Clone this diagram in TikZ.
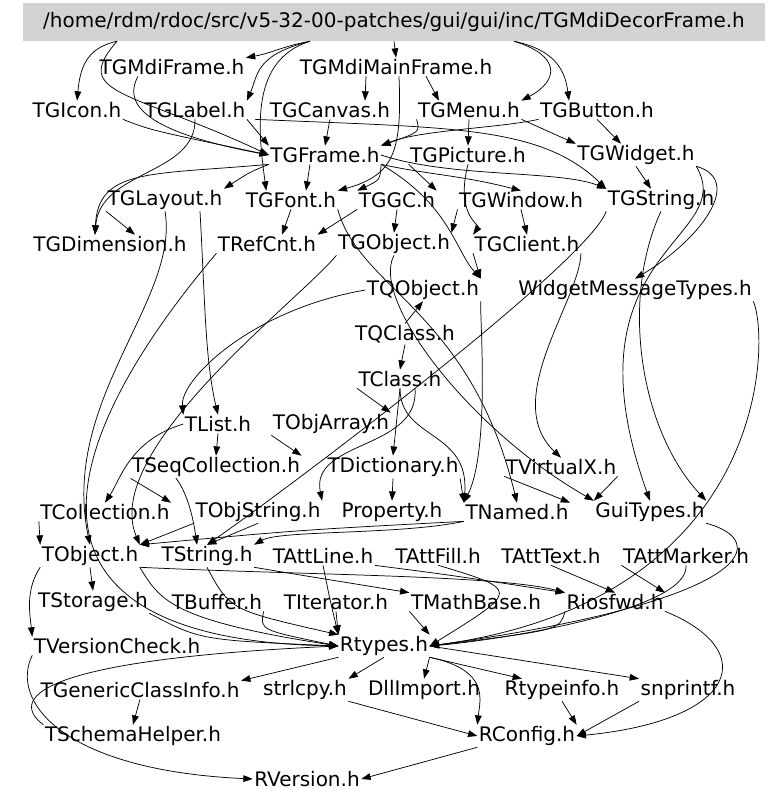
\documentclass[tikz,border=0pt]{standalone}
\usepackage{fontspec}
\setmainfont{DejaVu Sans}
\usetikzlibrary{arrows.meta}
\definecolor{hdrgray}{RGB}{211,211,211}

\begin{document}
\begin{tikzpicture}[x=0.75pt,y=-0.75pt,
  every node/.style={font=\fontsize{15}{18}\selectfont,inner sep=1pt},
  hdr/.style={fill=hdrgray,minimum width=556pt,minimum height=28.5pt,inner sep=0pt},
  dep/.style={line width=0.55pt,-{Triangle[length=7pt,width=5pt]}}]
  \useasboundingbox (0,0) rectangle (768,804);
  % header file
  \node[hdr] (DF) at (394,22) {/home/rdm/rdoc/src/v5-32-00-patches/gui/gui/inc/TGMdiDecorFrame.h};
  % included files, row by row
  \node (MF) at (172,67) {TGMdiFrame.h};
  \node (MMF) at (396,67) {TGMdiMainFrame.h};
  \node (IC) at (77,110) {TGIcon.h};
  \node (LB) at (195,110) {TGLabel.h};
  \node (CV) at (330,110) {TGCanvas.h};
  \node (MN) at (469,110) {TGMenu.h};
  \node (BT) at (597,110) {TGButton.h};
  \node (FR) at (325,155) {TGFrame.h};
  \node (PI) at (468,155) {TGPicture.h};
  \node (WI) at (636,155) {TGWidget.h};
  \node (LY) at (165,200) {TGLayout.h};
  \node (FO) at (291,200) {TGFont.h};
  \node (GC) at (397,200) {TGGC.h};
  \node (WN) at (521,200) {TGWindow.h};
  \node (GS) at (661,200) {TGString.h};
  \node (DM) at (110,244) {TGDimension.h};
  \node (RC) at (267,244) {TRefCnt.h};
  \node (GO) at (394,244) {TGObject.h};
  \node (CL) at (527,244) {TGClient.h};
  \node (QO) at (423,290) {TQObject.h};
  \node (WM) at (635,290) {WidgetMessageTypes.h};
  \node (QC) at (405,334) {TQClass.h};
  \node (CS) at (400,379) {TClass.h};
  \node (LI) at (218,424) {TList.h};
  \node (OA) at (331,424) {TObjArray.h};
  \node (SC) at (216,467) {TSeqCollection.h};
  \node (DI) at (393,467) {TDictionary.h};
  \node (VX) at (561,467) {TVirtualX.h};
  \node (CO) at (105,512) {TCollection.h};
  \node (OS) at (258,512) {TObjString.h};
  \node (PR) at (392,512) {Property.h};
  \node (NA) at (517,512) {TNamed.h};
  \node (GT) at (650,512) {GuiTypes.h};
  \node (OB) at (90,556) {TObject.h};
  \node (ST) at (207,556) {TString.h};
  \node (AL) at (323,556) {TAttLine.h};
  \node (AF) at (438,556) {TAttFill.h};
  \node (AT) at (551,556) {TAttText.h};
  \node (AM) at (686,556) {TAttMarker.h};
  \node (SG) at (93,602) {TStorage.h};
  \node (BU) at (217,602) {TBuffer.h};
  \node (IT) at (336,602) {TIterator.h};
  \node (MB) at (476,602) {TMathBase.h};
  \node (IO) at (615,602) {Riosfwd.h};
  \node (VC) at (117,646) {TVersionCheck.h};
  \node (RT) at (384,646) {Rtypes.h};
  \node (GCI) at (140,690) {TGenericClassInfo.h};
  \node (SL) at (305,690) {strlcpy.h};
  \node (DL) at (424,690) {DllImport.h};
  \node (TI) at (562,690) {Rtypeinfo.h};
  \node (SN) at (688,690) {snprintf.h};
  \node (SH) at (133,736) {TSchemaHelper.h};
  \node (CF) at (527,736) {RConfig.h};
  \node (RV) at (307,779) {RVersion.h};
  % from the header
  \draw[dep] ([shift={(-84,0)}]DF.south) to[out=190,in=10] (MF.north east);
  \draw[dep] ([shift={(-84,0)}]DF.south) .. controls (255,55) and (258,75) .. (LB.north east);
  \draw[dep] ([shift={(-84,0)}]DF.south) .. controls (250,60) and (258,130) .. ([shift={(22,0)}]FO.north west);
  \draw[dep] ([shift={(-277,0)}]DF.south) .. controls (85,48) and (80,70) .. (IC.north);
  \draw[dep] ([shift={(-277,0)}]DF.south) .. controls (70,95) and (130,90) .. (FR.west);
  \draw[dep] (DF.south) -- (MMF.north);
  \draw[dep] ([shift={(120,0)}]DF.south) .. controls (560,55) and (560,80) .. (MN.north east);
  \draw[dep] ([shift={(120,0)}]DF.south) .. controls (555,50) and (565,70) .. ([shift={(-28,0)}]BT.north);
  % second rows
  \draw[dep] ([shift={(-34,0)}]MF.south) .. controls (125,100) and (135,130) .. (FR.west);
  \draw[dep] ([shift={(-30,0)}]MMF.south) -- ([shift={(35,0)}]CV.north);
  \draw[dep] ([shift={(30,0)}]MMF.south) -- ([shift={(-30,0)}]MN.north);
  \draw[dep] ([shift={(3,0)}]MMF.south) .. controls (402,150) and (395,175) .. (FO.north east);
  \draw[dep] (IC.south east) .. controls (150,130) .. (FR.west);
  \draw[dep] (LB.south east) -- (FR.north west);
  \draw[dep] (LB.south) .. controls (196,175) and (100,170) .. ([shift={(-15,0)}]DM.north);
  \draw[dep] ([shift={(60,0)}]LB.south) .. controls (450,128) and (540,125) .. (GS.north west);
  \draw[dep] (CV.south) -- (FR.north);
  \draw[dep] (MN.south) -- (PI.north);
  \draw[dep] (MN.south west) .. controls (420,132) .. (FR.north east);
  \draw[dep] (MN.south east) -- (WI.north west);
  \draw[dep] (BT.south) -- ([shift={(-15,0)}]WI.north);
  \draw[dep] (BT.south west) .. controls (500,128) and (420,130) .. (FR.north east);
  % TGFrame.h and its neighbours
  \draw[dep] (FR.south west) .. controls (250,172) .. (LY.north east);
  \draw[dep] ([shift={(-15,0)}]FR.south) -- ([shift={(15,0)}]FO.north);
  \draw[dep] (FR.south east) .. controls (380,180) .. (GC.north west);
  \draw[dep] (FR.south west) .. controls (150,175) and (98,168) .. ([shift={(-15,0)}]DM.north);
  \draw[dep] (FR.east) .. controls (450,178) and (560,170) .. (GS.north west);
  \draw[dep] (FR.south east) .. controls (430,175) and (460,175) .. (WN.north);
  \draw[dep] (FR.south east) .. controls (450,205) and (455,250) .. (QO.north east);
  \draw[dep] (PI.south west) -- (GC.north east);
  \draw[dep] (PI.south) .. controls (455,215) and (480,225) .. (CL.north west);
  \draw[dep] (WI.south) -- ([shift={(-10,0)}]GS.north);
  \draw[dep] (WI.south east) .. controls (745,180) and (700,240) .. (WM.north);
  \draw[dep] (WI.south east) .. controls (740,240) and (560,250) .. (GT.north);
  \draw[dep] (LY.south west) -- ([shift={(25,0)}]DM.north);
  \draw[dep] (LY.south) .. controls (180,300) and (60,400) .. (OB.north);
  \draw[dep] ([shift={(35,0)}]LY.south) .. controls (205,300) and (205,360) .. (LI.north);
  \draw[dep] (FO.south) -- ([shift={(15,0)}]RC.north);
  \draw[dep] (FO.south east) .. controls (360,290) and (470,310) .. (NA.north);
  \draw[dep] (GC.south) -- (GO.north);
  \draw[dep] (GC.south west) -- (RC.north east);
  \draw[dep] (WN.south) -- (CL.north);
  \draw[dep] (WN.south west) -- (GO.north east);
  \draw[dep] (GS.south west) .. controls (590,260) and (300,480) .. (ST.north);
  \draw[dep] (GS.south) .. controls (620,300) and (640,430) .. (GT.north east);
  \draw[dep] (RC.south west) .. controls (50,450) and (0,640) .. (RT.west);
  \draw[dep] (GO.south) .. controls (370,300) and (470,430) .. (GT.north west);
  \draw[dep] (GO.south west) .. controls (300,300) and (100,450) .. (OB.north east);
  \draw[dep] (CL.south west) -- (QO.north east);
  \draw[dep] (CL.south east) .. controls (580,300) and (500,400) .. (VX.north);
  % middle part
  \draw[dep] (QO.west) .. controls (250,310) and (180,380) .. (LI.north west);
  \draw[dep] (QO.south east) .. controls (480,320) and (490,450) .. (NA.north west);
  \draw[dep] (QC.north) -- (QO.south);
  \draw[dep] (WM.south east) .. controls (770,340) and (770,600) .. (RT.east);
  \draw[dep] (QC.south) -- (CS.north);
  \draw[dep] (CS.south west) -- (OA.north east);
  \draw[dep] (CS.south) -- (DI.north);
  \draw[dep] (CS.south) .. controls (400,440) and (470,430) .. (NA.north west);
  \draw[dep] ([shift={(15,0)}]CS.south) .. controls (420,450) and (310,440) .. (OS.north east);
  \draw[dep] (LI.south) -- (SC.north);
  \draw[dep] (LI.west) .. controls (130,440) and (120,480) .. (CO.north);
  \draw[dep] (OA.south west) -- (SC.north east);
  \draw[dep] (SC.south west) -- (CO.north east);
  \draw[dep] ([shift={(-40,0)}]SC.south) .. controls (185,490) and (192,510) .. ([shift={(-10,0)}]ST.north);
  \draw[dep] (DI.south) -- (PR.north);
  \draw[dep] (DI.south east) -- (NA.north west);
  \draw[dep] (VX.south west) -- (NA.north east);
  \draw[dep] (VX.south east) -- (GT.north west);
  \draw[dep] (CO.south west) -- (OB.north west);
  \draw[dep] (OS.south) -- (ST.north);
  \draw[dep] (OS.south west) -- (OB.north east);
  \draw[dep] (NA.south west) .. controls (400,535) and (280,530) .. (ST.north east);
  \draw[dep] (NA.south west) .. controls (300,530) .. (OB.north east);
  \draw[dep] (GT.south east) .. controls (770,540) and (760,600) .. (RT.east);
  % lower part
  \draw[dep] (OB.south) -- (SG.north);
  \draw[dep] (OB.south west) .. controls (25,590) and (30,615) .. (VC.north west);
  \draw[dep] (OB.south east) .. controls (300,575) and (500,575) .. (IO.north west);
  \draw[dep] (OB.south east) .. controls (160,600) and (170,620) .. (RT.west);
  \draw[dep] (ST.south east) .. controls (300,575) .. (MB.north west);
  \draw[dep] (ST.south) .. controls (230,610) .. (RT.north west);
  \draw[dep] (AL.south east) .. controls (450,575) .. (IO.north west);
  \draw[dep] (AL.south) .. controls (330,600) .. (RT.north west);
  \draw[dep] (AF.south) .. controls (520,590) .. (RT.east);
  \draw[dep] (AT.south) -- (IO.north);
  \draw[dep] (AM.south west) -- (IO.north east);
  \draw[dep] (AM.south) .. controls (690,610) and (500,640) .. (RT.east);
  \draw[dep] (SG.south east) .. controls (200,640) .. (RT.west);
  \draw[dep] (BU.south east) .. controls (260,630) .. (RT.west);
  \draw[dep] (IT.south) -- (RT.north west);
  \draw[dep] (MB.south west) -- (RT.north east);
  \draw[dep] (IO.south west) .. controls (560,630) .. (RT.east);
  \draw[dep] (IO.south east) .. controls (760,650) and (740,720) .. (CF.east);
  \draw[dep] (VC.south west) .. controls (10,700) and (60,770) .. (RV.west);
  \draw[dep] (RT.south west) -- (GCI.north east);
  \draw[dep] (RT.south) -- (SL.north east);
  \draw[dep] (RT.south east) -- (DL.north);
  \draw[dep] (RT.south east) -- ([shift={(-40,0)}]TI.north);
  \draw[dep] (RT.east) -- (SN.north west);
  \draw[dep] (RT.south east) .. controls (490,670) and (480,700) .. (CF.north west);
  \draw[dep] (GCI.south) -- (SH.north);
  \draw[dep] (SH.north west) .. controls (10,700) and (30,660) .. (RT.west);
  \draw[dep] (SL.south east) -- (CF.west);
  \draw[dep] (TI.south) -- (CF.north east);
  \draw[dep] (SN.south west) -- (CF.east);
  \draw[dep] (CF.south west) -- (RV.east);
\end{tikzpicture}
\end{document}
